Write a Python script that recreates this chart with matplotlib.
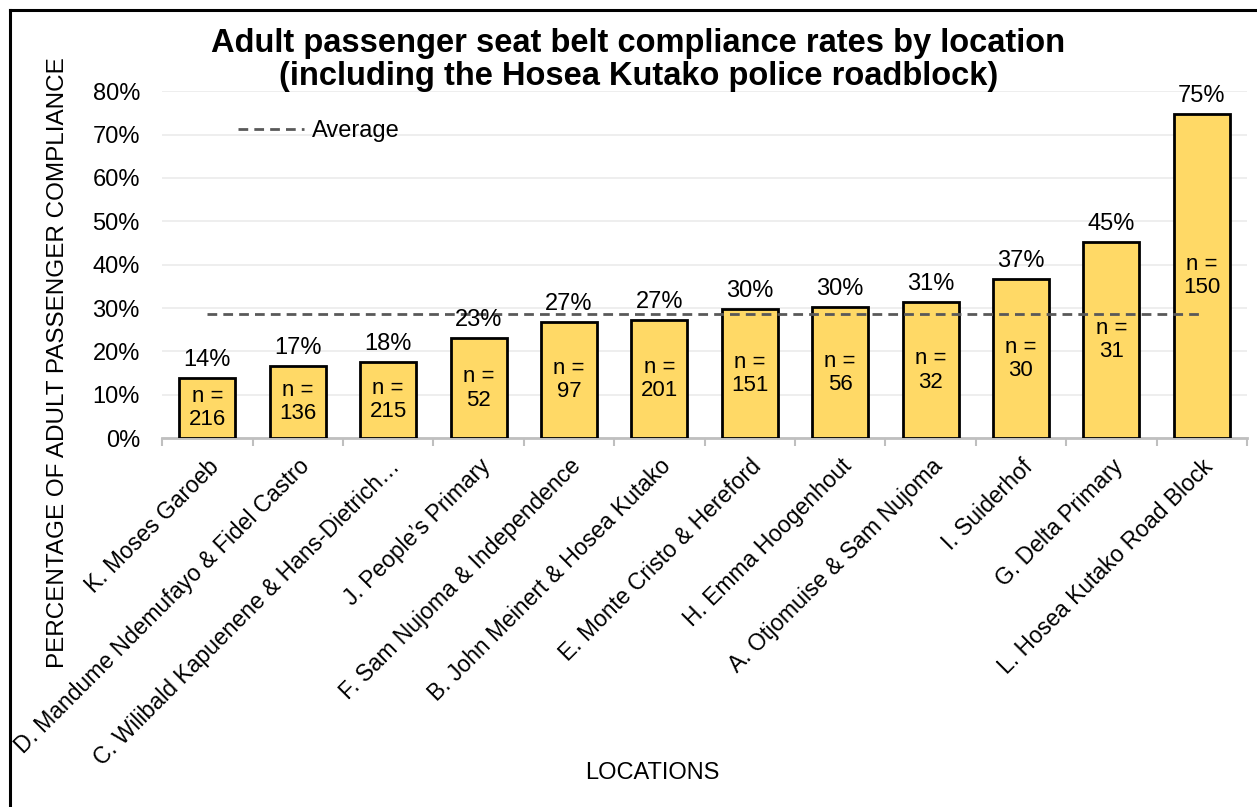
# Adult passenger seat belt compliance by location - bar chart with average line

import numpy as np
import matplotlib.pyplot as plt
from matplotlib.lines import Line2D
from matplotlib.ticker import PercentFormatter, FixedLocator

plt.rcParams['font.family'] = ['Liberation Sans', 'DejaVu Sans']

# data
locations = [
    "K. Moses Garoeb",
    "D. Mandume Ndemufayo & Fidel Castro",
    "C. Wilibald Kapuenene & Hans-Dietrich\u2026",
    "J. People\u2019s Primary",
    "F. Sam Nujoma & Independence",
    "B. John Meinert & Hosea Kutako",
    "E. Monte Cristo & Hereford",
    "H. Emma Hoogenhout",
    "A. Otjomuise & Sam Nujoma",
    "I. Suiderhof",
    "G. Delta Primary",
    "L. Hosea Kutako Road Block",
]
compliance = [0.139, 0.167, 0.176, 0.230, 0.268, 0.273,
              0.297, 0.302, 0.313, 0.366, 0.452, 0.747]
sample_n = [216, 136, 215, 52, 97, 201, 151, 56, 32, 30, 31, 150]
average = 0.286

x = np.arange(len(locations))

fig = plt.figure(figsize=(12.57, 8.07), dpi=100)
ax = fig.add_axes([0.129, 0.457, 0.863, 0.430])

bars = ax.bar(x, compliance, width=0.62, color='#FFD966',
              edgecolor='black', linewidth=2, zorder=3)

# value labels on top, sample size inside
for xi, v, n in zip(x, compliance, sample_n):
    ax.annotate(f"{v:.0%}", (xi, v), xytext=(0, 5), textcoords='offset points',
                ha='center', va='bottom', fontsize=17, zorder=5)
    ax.text(xi, v / 2, f"n =\n{n}", ha='center', va='center',
            fontsize=16, linespacing=1.15, zorder=5)

# average line across the bars
ax.plot([x[0], x[-1]], [average, average], color='#595959', lw=2,
        linestyle=(0, (3.5, 2.2)), label='Average', zorder=4)

ax.set_xlim(-0.5, len(locations) - 0.5)
ax.set_ylim(0, 0.8)
ax.set_yticks(np.arange(0, 0.81, 0.1))
ax.yaxis.set_major_formatter(PercentFormatter(1.0, decimals=0))
ax.grid(axis='y', color='#EBEBEB', lw=1.2, zorder=0)

ax.set_xticks(x)
ax.set_xticklabels(locations, rotation=45, ha='right', rotation_mode='anchor',
                   fontsize=16.5)
ax.xaxis.set_minor_locator(FixedLocator(np.arange(-0.5, len(locations), 1.0)))
ax.tick_params(axis='x', which='major', length=0, pad=12)
ax.tick_params(axis='x', which='minor', length=6, width=1.5, color='#BFBFBF')
ax.tick_params(axis='y', length=0, labelsize=17, pad=16)

for side in ['top', 'right', 'left']:
    ax.spines[side].set_visible(False)
ax.spines['bottom'].set_color('#BFBFBF')
ax.spines['bottom'].set_linewidth(2)

ax.legend(loc='center left', bbox_to_anchor=(0.05, 0.885), frameon=False,
          fontsize=17, handlelength=2.8, handletextpad=0.35)

fig.text(0.508, 0.926, "Adult passenger seat belt compliance rates by location\n"
         "(including the Hosea Kutako police roadblock)",
         ha='center', va='center', fontsize=23.5, fontweight='bold',
         linespacing=1.1)
fig.text(0.046, 0.551, "PERCENTAGE OF ADULT PASSENGER COMPLIANCE",
         rotation=90, ha='center', va='center', fontsize=17.5)
fig.text(0.519, 0.042, "LOCATIONS", ha='center', va='center', fontsize=17)

# outer frame (only top and left edges are visible in the reference)
fig.add_artist(Line2D([10 / 1257, 1.0], [1 - 10 / 807, 1 - 10 / 807],
                      color='black', lw=2.2, transform=fig.transFigure))
fig.add_artist(Line2D([10 / 1257, 10 / 1257], [0, 1 - 10 / 807],
                      color='black', lw=2.2, transform=fig.transFigure))

fig.savefig('out.png', dpi=100)
